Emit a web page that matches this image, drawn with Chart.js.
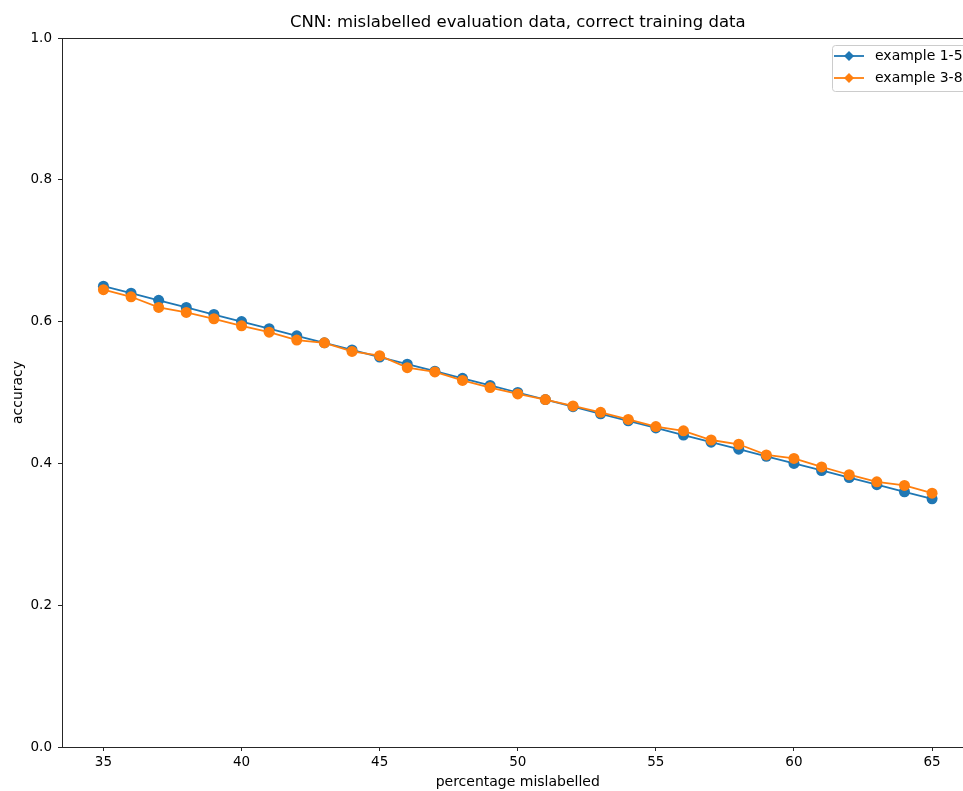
<!DOCTYPE html>
<html>
<head>
<meta charset="utf-8">
<script src="https://cdn.jsdelivr.net/npm/chart.js@4"></script>
<style>
  html, body { margin: 0; padding: 0; background: #fff; overflow: hidden; }
  #myChart { display: block; }
</style>
</head>
<body>
<canvas id="myChart" width="979" height="791"></canvas>
<script>
// percentage of mislabelled evaluation data
let percentages = [35, 36, 37, 38, 39, 40, 41, 42, 43, 44, 45, 46, 47, 48, 49, 50,
  51, 52, 53, 54, 55, 56, 57, 58, 59, 60, 61, 62, 63, 64, 65];

// accuracy for each example set
let example15 = [0.65, 0.64, 0.63, 0.62, 0.61, 0.60, 0.59, 0.58, 0.57, 0.56, 0.55,
  0.54, 0.53, 0.52, 0.51, 0.50, 0.49, 0.48, 0.47, 0.46, 0.45, 0.44, 0.43, 0.42,
  0.41, 0.40, 0.39, 0.38, 0.37, 0.36, 0.35];
let example38 = [0.645, 0.635, 0.62, 0.613, 0.604, 0.594, 0.585, 0.574, 0.57, 0.558,
  0.552, 0.535, 0.529, 0.517, 0.507, 0.498, 0.49, 0.481, 0.472, 0.462, 0.452,
  0.446, 0.433, 0.427, 0.412, 0.407, 0.395, 0.384, 0.374, 0.369, 0.358];

let seriesNames = ['example 1-5', 'example 3-8'];
let xTicks = [35, 40, 45, 50, 55, 60, 65];
let yTicks = [0.0, 0.2, 0.4, 0.6, 0.8, 1.0];

const FONT = "'DejaVu Sans', sans-serif";
const INK = '#262626';

function toPoints(values) {
  return values.map((v, i) => ({ x: percentages[i], y: v }));
}

// axes frame, title and a matplotlib style legend
const framePlugin = {
  id: 'frame',
  afterDraw(chart) {
    const ctx = chart.ctx;
    const a = chart.chartArea;
    ctx.save();
    ctx.strokeStyle = INK;
    ctx.lineWidth = 1;
    ctx.strokeRect(Math.round(a.left) + 0.5, Math.round(a.top) + 0.5,
      Math.round(a.right - a.left), Math.round(a.bottom - a.top));

    // title
    ctx.fillStyle = '#000';
    ctx.font = '16.5px ' + FONT;
    ctx.textAlign = 'center';
    ctx.textBaseline = 'middle';
    ctx.fillText('CNN: mislabelled evaluation data, correct training data',
      (a.left + a.right) / 2, 23);

    // legend (drawn in the order the datasets were given)
    const lx = 832, ly = 45;
    ctx.fillStyle = 'rgba(255,255,255,0.8)';
    ctx.strokeStyle = '#cccccc';
    ctx.lineWidth = 1;
    ctx.beginPath();
    ctx.roundRect(lx + 0.5, ly + 0.5, 160, 46, 3);
    ctx.fill();
    ctx.stroke();
    ctx.font = '14px ' + FONT;
    ctx.textAlign = 'left';
    chart.data.datasets.forEach((ds, i) => {
      const y = 56 + i * 22;
      ctx.strokeStyle = ds.borderColor;
      ctx.lineWidth = 1.8;
      ctx.beginPath();
      ctx.moveTo(834, y);
      ctx.lineTo(864, y);
      ctx.stroke();
      ctx.fillStyle = ds.borderColor;
      ctx.beginPath();
      ctx.moveTo(849, y - 5);
      ctx.lineTo(854, y);
      ctx.lineTo(849, y + 5);
      ctx.lineTo(844, y);
      ctx.closePath();
      ctx.fill();
      ctx.fillStyle = '#000';
      ctx.fillText(ds.label, 875, y);
    });
    ctx.restore();
  }
};

const ctx = document.getElementById('myChart').getContext('2d');
new Chart(ctx, {
  type: 'line',
  data: {
    datasets: [{
      label: seriesNames[0],
      data: toPoints(example15),
      borderColor: '#1f77b4',
      backgroundColor: '#1f77b4',
      borderWidth: 1.8,
      pointRadius: 5.5,
      pointBorderWidth: 0,
      tension: 0,
      order: 2
    }, {
      label: seriesNames[1],
      data: toPoints(example38),
      borderColor: '#ff7f0e',
      backgroundColor: '#ff7f0e',
      borderWidth: 1.8,
      pointRadius: 5.5,
      pointBorderWidth: 0,
      tension: 0,
      order: 1
    }]
  },
  options: {
    responsive: false,
    animation: false,
    layout: { padding: { top: 38, left: 0, right: 0, bottom: 0 } },
    plugins: {
      legend: { display: false },
      title: { display: false },
      tooltip: { enabled: false }
    },
    scales: {
      x: {
        type: 'linear',
        min: 33.5,
        max: 66.5,
        afterBuildTicks: scale => { scale.ticks = xTicks.map(v => ({ value: v })); },
        afterFit: scale => { scale.height = 44; },
        border: { display: false },
        grid: { drawOnChartArea: false, drawTicks: true, tickLength: 4, color: INK },
        ticks: { color: '#000', font: { family: FONT, size: 13.5 }, padding: 3, maxRotation: 0 },
        title: {
          display: true,
          text: 'percentage mislabelled',
          color: '#000',
          font: { family: FONT, size: 14 },
          padding: { top: 0, bottom: 0 }
        }
      },
      y: {
        min: 0,
        max: 1,
        afterBuildTicks: scale => { scale.ticks = yTicks.map(v => ({ value: v })); },
        afterFit: scale => { scale.width = 62; },
        border: { display: false },
        grid: { drawOnChartArea: false, drawTicks: true, tickLength: 4, color: INK },
        ticks: {
          color: '#000',
          font: { family: FONT, size: 13.5 },
          padding: 6,
          callback: v => v.toFixed(1)
        },
        title: {
          display: true,
          text: 'accuracy',
          color: '#000',
          font: { family: FONT, size: 14 },
          padding: { top: 10, bottom: 0 }
        }
      }
    }
  },
  plugins: [framePlugin]
});
</script>
</body>
</html>
